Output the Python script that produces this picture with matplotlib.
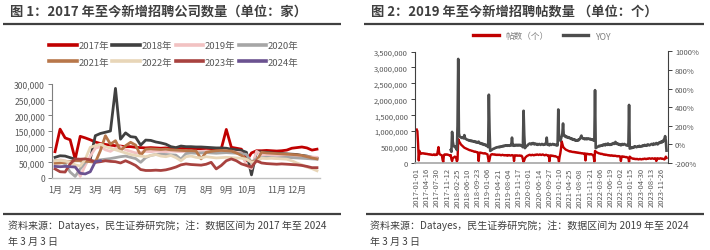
import numpy as np
import matplotlib
matplotlib.use('Agg')
import matplotlib.pyplot as plt
from matplotlib.lines import Line2D
from matplotlib.ticker import FuncFormatter

plt.rcParams['font.family'] = ['Noto Sans CJK SC', 'DejaVu Sans']

# ---------------- Chart 1 data (weekly, thousands of companies) ----------------
years = ['2017年', '2018年', '2019年', '2020年', '2021年', '2022年', '2023年', '2024年']
v2017 = [84, 156, 128, 122, 60, 133, 128, 122, 115, 110,
         107, 105, 103, 102, 100, 100, 98, 97, 96, 97,
         96, 95, 96, 94, 95, 94, 95, 93, 94, 93,
         94, 93, 92, 93, 155, 98, 95, 92, 55, 80,
         87, 87, 88, 87, 86, 87, 89, 95, 97, 99,
         96, 89, 92]
v2018 = [66, 71, 70, 65, 60, 55, 52, 60, 135, 142,
         146, 150, 286, 124, 144, 132, 130, 105, 121, 120,
         115, 112, 108, 100, 97, 102, 100, 100, 99, 99,
         98, 97, 96, 96, 95, 92, 90, 88, 82, 10,
         84, 83, 82, 80, 79, 78, 77, 76, 75, 72,
         70, 66, 63]
v2019 = [55, 58, 55, 50, 40, 5, 40, 70, 95, 100,
         90, 85, 95, 100, 90, 85, 80, 82, 85, 84,
         86, 85, 84, 86, 85, 84, 85, 86, 84, 85,
         86, 85, 84, 85, 86, 84, 82, 80, 40, 30,
         85, 75, 74, 73, 72, 72, 71, 70, 70, 69,
         68, 67, 66]
v2020 = [56, 52, 45, 19, 5, 29, 50, 55, 55, 58,
         60, 62, 65, 68, 70, 66, 62, 50, 65, 72,
         75, 76, 75, 74, 73, 60, 78, 80, 79, 80,
         81, 80, 79, 80, 81, 80, 79, 78, 75, 50,
         62, 65, 66, 65, 64, 65, 66, 65, 64, 63,
         62, 61, 60]
v2021 = [47, 48, 50, 52, 55, 55, 54, 52, 50, 87,
         135, 108, 119, 87, 103, 114, 105, 72, 92, 93,
         92, 91, 92, 90, 89, 88, 87, 87, 86, 61,
         82, 85, 87, 88, 87, 86, 80, 72, 60, 51,
         55, 82, 80, 79, 78, 77, 76, 75, 74, 72,
         68, 64, 61]
v2022 = [55, 56, 54, 50, 42, 38, 60, 98, 103, 108,
         100, 95, 90, 85, 80, 75, 72, 70, 68, 72,
         75, 70, 68, 72, 65, 55, 68, 70, 66, 64,
         68, 66, 64, 65, 66, 65, 64, 63, 60, 50,
         52, 63, 62, 63, 62, 61, 60, 55, 48, 42,
         35, 30, 23]
v2023 = [29, 20, 19, 45, 61, 60, 61, 58, 50, 52,
         55, 53, 52, 48, 55, 48, 40, 27, 24, 24,
         25, 24, 26, 30, 35, 42, 45, 43, 42, 41,
         44, 50, 29, 40, 55, 61, 55, 45, 40, 35,
         55, 48, 46, 45, 44, 45, 44, 43, 42, 40,
         37, 33, 33]
v2024 = [37, 36, 37, 36, 35, 15, 13, 20, 52, 55]
series1 = [v2017, v2018, v2019, v2020, v2021, v2022, v2023, v2024]
colors1 = ['#C00000', '#404040', '#F2C2C2', '#A6A6A6',
           '#B8774A', '#E8D6B8', '#A8423F', '#6B5290']

month_labels = ['1月', '2月', '3月', '4月', '5月', '6月',
                '7月', '8月', '9月', '10月', '11月', '12月']
month_weeks = [0, 4, 8, 12, 17, 21, 25, 30, 34, 38, 44, 48]

# ---------------- Chart 2 data (weekly from 2017-01-01) ----------------
date_labels = ['2017-01-01', '2017-04-16', '2017-07-30', '2017-11-12', '2018-02-25',
               '2018-06-10', '2018-09-23', '2019-01-06', '2019-04-21', '2019-08-04',
               '2019-11-17', '2020-03-01', '2020-06-14', '2020-09-27', '2021-01-10',
               '2021-04-25', '2021-08-08', '2021-11-21', '2022-03-06', '2022-06-19',
               '2022-10-02', '2023-01-15', '2023-04-30', '2023-08-13', '2023-11-26']

posts_k = [
    1050, 1000, 620, 80, 380, 330, 300, 290, 300, 310, 300, 290, 300, 290, 280,
    290, 280, 270, 280, 270, 260, 270, 260, 250, 260, 270, 250, 260, 250, 270,
    260, 380, 500, 320, 270, 260, 250, 240, 100, 30, 250, 270, 260, 270, 260,
    270, 260, 250, 240, 230, 250, 120, 60, 150, 170, 180, 200, 190, 150, 50,
    100, 750, 700, 650, 620, 580, 560, 540, 520, 500, 480, 470, 460, 450, 440,
    430, 420, 410, 400, 400, 390, 380, 380, 370, 360, 350, 360, 350, 340, 340,
    330, 60, 300, 330, 320, 320, 310, 310, 300, 300, 310, 300, 290, 280, 270,
    150, 20, 100, 220, 260, 270, 280, 270, 270, 260, 270, 260, 250, 260, 250,
    260, 250, 260, 250, 240, 250, 260, 250, 240, 250, 240, 250, 240, 230, 250,
    240, 250, 240, 230, 240, 250, 240, 230, 60, 240, 230, 240, 230, 240, 230,
    230, 240, 230, 220, 230, 200, 120, 30, 80, 150, 180, 200, 220, 230, 240,
    250, 260, 250, 240, 250, 260, 250, 240, 250, 260, 250, 260, 270, 260, 250,
    260, 270, 260, 250, 260, 270, 260, 250, 240, 250, 260, 250, 240, 230, 240,
    50, 220, 240, 230, 220, 230, 220, 210, 220, 210, 200, 190, 180, 150, 40,
    200, 300, 450, 680, 600, 520, 480, 460, 440, 420, 410, 400, 390, 380, 370,
    360, 370, 360, 350, 350, 340, 350, 340, 330, 340, 330, 320, 330, 320, 310,
    320, 310, 300, 310, 300, 300, 290, 300, 80, 290, 280, 290, 280, 270, 280,
    270, 280, 270, 260, 250, 200, 40, 380, 360, 340, 330, 320, 310, 300, 300,
    290, 280, 290, 280, 270, 260, 270, 260, 250, 260, 250, 240, 250, 240, 230,
    240, 230, 240, 230, 220, 230, 220, 230, 220, 210, 220, 210, 220, 210, 200,
    60, 200, 210, 200, 190, 200, 190, 180, 190, 180, 170, 150, 30, 200, 180,
    160, 150, 140, 130, 140, 130, 120, 130, 120, 130, 120, 110, 120, 130, 120,
    110, 120, 130, 120, 130, 140, 130, 120, 130, 140, 130, 140, 150, 140, 130,
    140, 150, 140, 130, 140, 150, 140, 60, 140, 150, 140, 130, 140, 150, 140,
    130, 140, 130, 120, 110, 150, 200, 160]

yoy_pct = [None] * 50 + [
    -60, -80, 135, 30, -10, -20, -30, -25, -40, -60,
    200, 920, 120, 85, 80, 75, 70, 75, 70, 65, 100, 70, 60, 55, 50,
    50, 45, 40, 45, 40, 35, 40, 35, 30, 35, 30, 25, 30, 20, 25,
    20, 30, 15, 10, 15, 5, 10, 0, 5, -5, 0, -10, -5, -15, -20,
    -30, 535, 150, -70, -65, -60, -55, -50, -45, -45, -40, -35, -35, -30, -30,
    -30, -25, -30, -25, -20, -25, -20, -15, -20, -15, -10, -15, -10, -15, -10,
    -10, -15, -10, -5, -10, 73, -10, -5, -15, -5, -10, -5, -10, -5, -10,
    -5, -10, -5, -10, -15, -20, -30, 362, 100, -40, -30, -20, -15, -10, 0,
    5, 10, 5, 0, 10, 5, 15, 5, 0, 10, 5, 0, 5, -5, 0,
    5, 0, -5, 0, 5, 0, -5, 0, 5, 0, 5, 73, 0, -5, 0,
    -10, 5, 0, -5, 0, 5, 0, -5, 0, -5, -10, -5, -10, 376, 60,
    50, 40, 60, 90, 120, 225, 100, 90, 95, 80, 85, 75, 80, 70, 75,
    70, 60, 65, 55, 60, 50, 55, 45, 50, 40, 45, 40, 50, 45, 55,
    60, 80, 95, 70, 65, 60, 65, 55, 60, 65, 55, 60, 65, 60, 55,
    60, 55, 50, 55, 45, 50, 40, 584, -40, -35, -30, -25, -20, -15, -20,
    -15, -10, -15, -5, -10, 0, -5, -10, 5, 0, -5, 10, 0, -5, 0,
    -5, 5, 0, 10, 15, 5, 10, 27, 15, 5, 10, 0, 5, -5, 0,
    -10, 0, 5, -5, 0, 5, 0, -5, -10, -5, -10, -15, 425, -45, -40,
    -35, -40, -30, -35, -25, -30, -20, -25, -30, -25, -20, -25, -15, -20, -25,
    -20, -15, -20, -10, -15, -5, -10, -15, -5, -10, 0, -5, -10, -5, 0,
    5, 0, -5, 10, 5, 0, 5, 15, 5, 0, 10, 20, 15, 25, 30,
    20, 35, 30, 50, 60, 89, 40, -67]

legend2 = ['帖数（个）', 'YOY']

# ---------------- figure ----------------
W, H = 710, 251
fig = plt.figure(figsize=(W / 100, H / 100), dpi=100)
TXT = '#595959'


def fx(px):
    return px / W


def fy(py):
    return 1 - py / H


def hline(x0, x1, y, lw=1.6, color='#404040'):
    fig.add_artist(Line2D([fx(x0), fx(x1)], [fy(y), fy(y)], transform=fig.transFigure,
                          color=color, lw=lw, solid_capstyle='butt'))


# titles
fig.text(fx(10), fy(12), '图 1：2017 年至今新增招聘公司数量（单位：家）', fontsize=9.5,
         fontweight='bold', color='#3F3F3F', va='center', ha='left')
fig.text(fx(371), fy(12), '图 2：2019 年至今新增招聘帖数量 （单位：个）', fontsize=9.5,
         fontweight='bold', color='#3F3F3F', va='center', ha='left')
hline(3, 341, 24.5)
hline(364, 704, 24.5)
hline(3, 341, 214.5)
hline(366, 704, 214.5)
fig.text(fx(8), fy(226), '资料来源：Datayes，民生证券研究院；注：数据区间为 2017 年至 2024',
         fontsize=7.2, color='#404040', va='center', ha='left')
fig.text(fx(8), fy(242), '年 3 月 3 日', fontsize=7.2, color='#404040', va='center', ha='left')
fig.text(fx(370), fy(226), '资料来源：Datayes，民生证券研究院；注：数据区间为 2019 年至 2024',
         fontsize=7.2, color='#404040', va='center', ha='left')
fig.text(fx(370), fy(242), '年 3 月 3 日', fontsize=7.2, color='#404040', va='center', ha='left')

# ---- chart 1 ----
ax1 = fig.add_axes([fx(52), fy(179), fx(320) - fx(52), fy(85) - fy(179)])
handles = []
for lab, vals, col in zip(years, series1, colors1):
    y = np.array(vals, dtype=float) * 1000
    x = np.arange(len(y))
    ax1.plot(x, y, color=col, lw=2.0, solid_joinstyle='round')
    handles.append(Line2D([], [], color=col, lw=2.6))
ax1.set_xlim(-0.6, 52.6)
ax1.set_ylim(0, 300000)
ax1.set_yticks(np.arange(0, 300001, 50000))
ax1.yaxis.set_major_formatter(FuncFormatter(lambda v, p: f'{int(v):,}'))
ax1.set_xticks(month_weeks)
ax1.set_xticklabels(month_labels)
for s in ['top', 'right']:
    ax1.spines[s].set_visible(False)
ax1.spines['left'].set_color('#7F7F7F')
ax1.spines['left'].set_linewidth(0.8)
ax1.spines['bottom'].set_color('#BFBFBF')
ax1.spines['bottom'].set_linewidth(1.0)
ax1.tick_params(axis='y', length=3, width=0.7, color='#7F7F7F', labelsize=6.2,
                labelcolor=TXT, pad=2)
ax1.tick_params(axis='x', length=0, labelsize=6.5, labelcolor=TXT, pad=5)
ax1.patch.set_alpha(0)

# legend filled row by row (matplotlib fills column-wise, so reorder)
order = [0, 4, 1, 5, 2, 6, 3, 7]
leg1 = fig.legend([handles[i] for i in order], [years[i] for i in order], ncol=4,
                  loc='center', bbox_to_anchor=(fx(174), fy(55)), frameon=False,
                  fontsize=6.8, handlelength=2.9, handletextpad=0.2, columnspacing=0.35,
                  labelspacing=0.75, borderpad=0)
for t in leg1.get_texts():
    t.set_color(TXT)

# ---- chart 2 ----
ax2 = fig.add_axes([fx(415), fy(164), fx(668) - fx(415), fy(52.5) - fy(164)])
xw = np.arange(len(posts_k))
ax2.plot(xw, np.array(posts_k, dtype=float) * 1000, color='#C00000', lw=1.7)
ax2.set_xlim(-2.5, 369.2)
ax2.set_ylim(0, 3500000)
ax2.set_yticks(np.arange(0, 3500001, 500000))
ax2.yaxis.set_major_formatter(FuncFormatter(lambda v, p: f'{int(v):,}'))
ax2.set_xticks(np.arange(0, 15 * len(date_labels), 15))
ax2.set_xticklabels(date_labels, rotation=90)
ax2.tick_params(axis='x', length=0, labelsize=5.5, labelcolor=TXT, pad=3)
ax2.tick_params(axis='y', length=3, width=0.7, color='#404040', labelsize=5.5,
                labelcolor=TXT, pad=2)
for s in ['top', 'right']:
    ax2.spines[s].set_visible(False)
ax2.spines['left'].set_color('#404040')
ax2.spines['left'].set_linewidth(0.8)
ax2.spines['bottom'].set_color('#A6A6A6')
ax2.spines['bottom'].set_linewidth(1.2)

ax2r = ax2.twinx()
ax2r.plot(xw, np.array(yoy_pct, dtype=float), color='#4D4D4D', lw=1.9)
ax2r.set_ylim(-200, 1000)
ax2r.set_yticks(np.arange(-200, 1001, 200))
ax2r.yaxis.set_major_formatter(FuncFormatter(lambda v, p: f'{int(v)}%'))
ax2r.tick_params(axis='y', length=3, width=0.7, color='#404040', labelsize=5.5,
                 labelcolor=TXT, pad=2)
for s in ['top', 'left', 'bottom']:
    ax2r.spines[s].set_visible(False)
ax2r.spines['right'].set_color('#404040')
ax2r.spines['right'].set_linewidth(0.8)

h2 = [Line2D([], [], color='#C00000', lw=2.4), Line2D([], [], color='#4D4D4D', lw=2.4)]
leg2 = fig.legend(h2, legend2, ncol=2, loc='center', bbox_to_anchor=(fx(542), fy(37)),
                  frameon=False, fontsize=6.2, handlelength=3.0, handletextpad=0.8,
                  columnspacing=1.6, borderpad=0)
for t in leg2.get_texts():
    t.set_color('#7F7F7F')

fig.savefig('out.png', dpi=100)
